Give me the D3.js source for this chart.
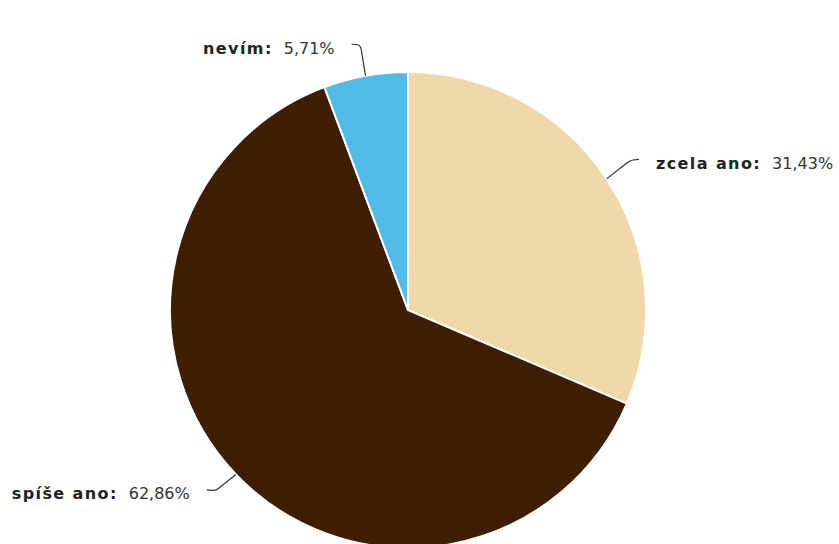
<!DOCTYPE html>
<html>
<head>
<meta charset="utf-8">
<script src="https://cdn.jsdelivr.net/npm/d3@7"></script>
<style>
  body { margin: 0; background: #fff; }
  text { font-family: "DejaVu Sans", sans-serif; font-size: 16px; }
</style>
</head>
<body>
<div id="chart-area"></div>
<script>
// data
var categories = ["zcela ano", "spíše ano", "nevím"];
var values = [31.43, 62.86, 5.71];
var colours = ["#f0d8a8", "#3d1f00", "#4fbbe8"];

var width = 839;
var height = 544;
var cx = 408, cy = 310, radius = 238;

var svg = d3.select("#chart-area").append("svg")
    .attr("width", width)
    .attr("height", height);

var g = svg.append("g")
    .attr("transform", "translate(" + cx + "," + cy + ")");

var data = categories.map(function(c, i) { return {name: c, value: values[i], colour: colours[i]}; });

var pie = d3.pie()
    .sort(null)
    .value(function(d) { return d.value; });

var arc = d3.arc()
    .innerRadius(0)
    .outerRadius(radius);

var arcs = pie(data);

g.selectAll("path.slice")
    .data(arcs)
    .enter()
    .append("path")
        .attr("class", "slice")
        .attr("d", arc)
        .attr("fill", function(d) { return d.data.colour; })
        .attr("stroke", "#fff")
        .attr("stroke-width", 2)
        .attr("stroke-linejoin", "round");

var fmt = function(v) { return v.toFixed(2).replace(".", ",") + "%"; };

arcs.forEach(function(d) {
    var a = (d.startAngle + d.endAngle) / 2;
    var s = Math.sin(a), c = Math.cos(a);
    var side = s >= 0 ? 1 : -1;
    var edge = [radius * s, -radius * c];
    var bend = [(radius + 28) * s, -(radius + 28) * c - 3];
    var pre = [edge[0] + (bend[0] - edge[0]) * 0.85, edge[1] + (bend[1] - edge[1]) * 0.85];
    var end = [bend[0] + side * 9, bend[1] - 1];

    var p = d3.path();
    p.moveTo(edge[0], edge[1]);
    p.lineTo(pre[0], pre[1]);
    p.quadraticCurveTo(bend[0], bend[1], bend[0] + side * 3, bend[1] - 0.5);
    p.lineTo(end[0], end[1]);

    g.append("path")
        .attr("d", p.toString())
        .attr("fill", "none")
        .attr("stroke", "#333")
        .attr("stroke-width", 1.2);

    var t = g.append("text")
        .attr("x", end[0] + side * 17)
        .attr("y", end[1] + 4)
        .attr("dy", "0.35em")
        .attr("text-anchor", side > 0 ? "start" : "end");
    t.append("tspan")
        .attr("font-weight", "bold")
        .attr("letter-spacing", "1.4px")
        .attr("fill", "#222")
        .text(d.data.name + ":");
    t.append("tspan")
        .attr("dx", 11)
        .attr("fill", "#333")
        .text(fmt(d.data.value));
});
</script>
</body>
</html>
